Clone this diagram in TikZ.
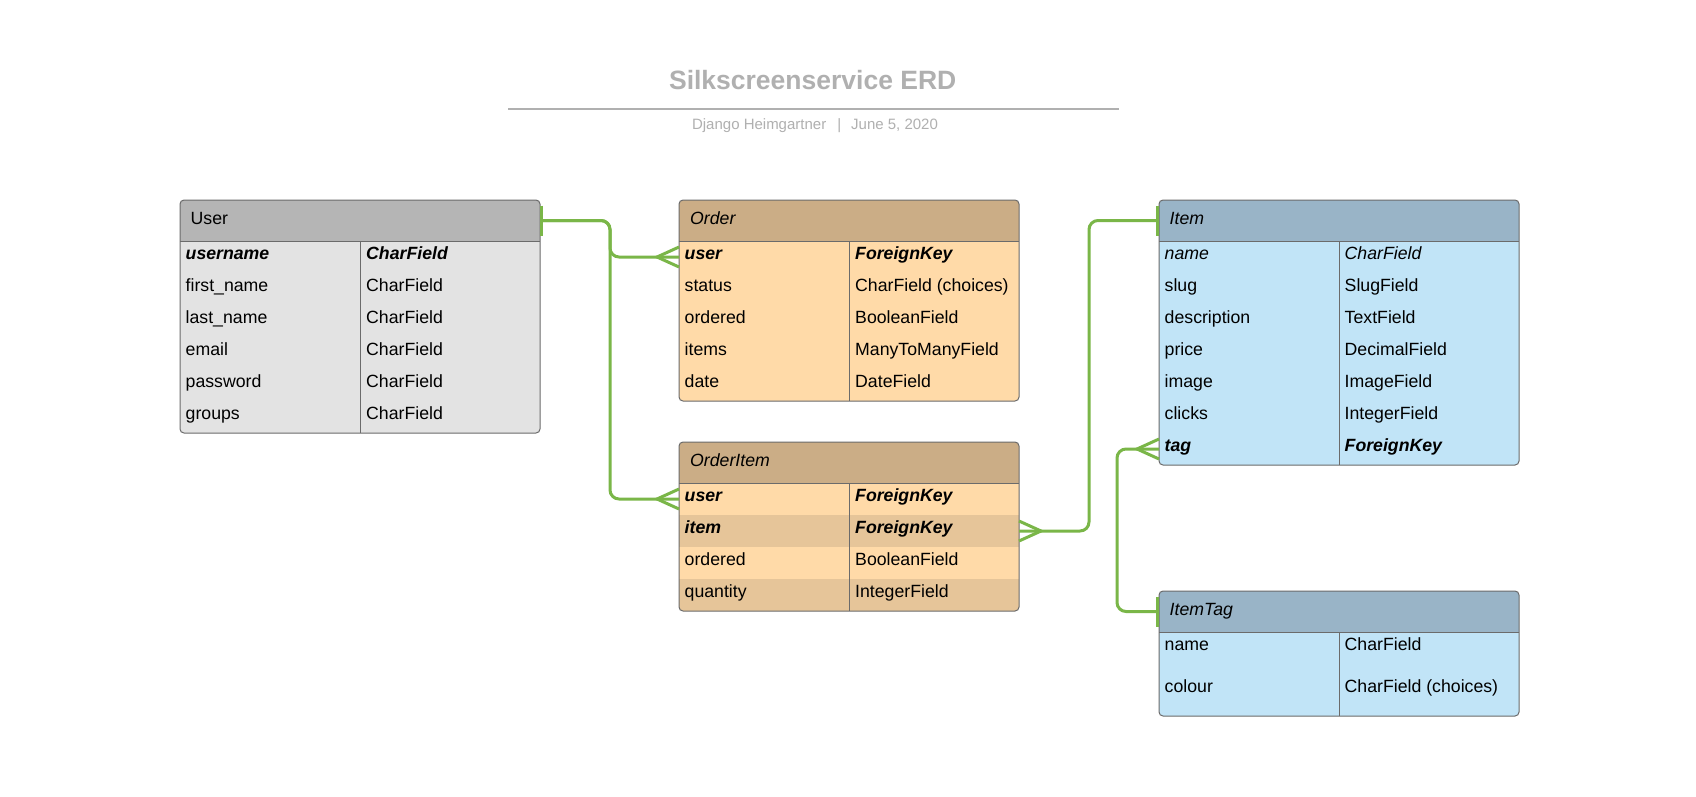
\documentclass[tikz,border=0pt]{standalone}
\usepackage{fontspec}
\setmainfont{Liberation Sans}

\definecolor{greyhead}{HTML}{B5B5B5}
\definecolor{greybody}{HTML}{E3E3E3}
\definecolor{tanhead}{HTML}{CBAD86}
\definecolor{tanbody}{HTML}{FFDAA8}
\definecolor{tanalt}{HTML}{E6C599}
\definecolor{bluehead}{HTML}{99B4C7}
\definecolor{bluebody}{HTML}{C1E4F7}
\definecolor{linkgreen}{HTML}{7AB648}
\definecolor{framegrey}{HTML}{6B6B6B}
\definecolor{titlegrey}{HTML}{B0B0B0}

\newcommand{\keyfield}[1]{\textbf{\textit{#1}}}

\begin{document}
\begin{tikzpicture}[x=1pt, y=-1pt,
  tbl/.style={rectangle, inner sep=0pt, outer sep=0pt, anchor=north west},
  txt/.style={anchor=base west, inner sep=0pt, font=\fontsize{17.7}{21}\selectfont},
  frame/.style={draw=framegrey, line width=1pt, rounded corners=4pt},
  rule/.style={draw=framegrey, line width=1pt},
  link/.style={draw=linkgreen, line width=3pt, rounded corners=9pt},
  tip/.style={draw=linkgreen, line width=3pt},
  crowfoot/.pic={\draw[tip] (0,-10) -- (-22,0) -- (0,10);},
  onebar/.pic={\draw[tip] (0,-15) -- (0,15);}
]
  \fill[white] (0,0) rectangle (1696,796);
  \useasboundingbox (0,0) rectangle (1696,796);

  % title
  \node[anchor=base, inner sep=0pt, text=titlegrey, font=\fontsize{26.5}{31}\selectfont\bfseries] (title) at (812.7,89.5) {Silkscreenservice ERD};
  \draw[titlegrey, line width=2pt] (508,108.5) -- (1119,108.5);
  \node[anchor=base, inner sep=0pt, text=titlegrey, font=\fontsize{15}{18}\selectfont] (byline) at (815,129) {Django Heimgartner\hspace{11pt}|\hspace{10pt}June 5, 2020};

  % User
  \node[tbl, rounded corners=4pt, fill=greybody, minimum width=360pt, minimum height=233pt] (user) at (180,200) {};
  \begin{scope}
    \clip[rounded corners=4pt] (user.north west) rectangle (user.south east);
    \node[tbl, fill=greyhead, minimum width=360pt, minimum height=41pt] (user-head) at (user.north west) {};
    \foreach \fname/\ftype [count=\i from 0] in {\keyfield{username}/\keyfield{CharField}, first\_name/CharField, last\_name/CharField, email/CharField, password/CharField, groups/CharField} {
      \node[tbl, minimum width=360pt, minimum height=32pt] (user-r\i) at (180,{241+32*\i}) {};
      \node[txt] (user-n\i) at (185.5,{259+32*\i}) {\fname};
      \node[txt] (user-t\i) at (366,{259+32*\i}) {\ftype};
    }
  \end{scope}
  \node[txt] (user-title) at (190.5,224.5) {User};
  \draw[rule] (user-head.south west) -- (user-head.south east);
  \draw[rule] (360,241) -- (360,433);
  \draw[frame] (user.north west) rectangle (user.south east);

  % Order
  \node[tbl, rounded corners=4pt, fill=tanbody, minimum width=340pt, minimum height=201pt] (order) at (679,200) {};
  \begin{scope}
    \clip[rounded corners=4pt] (order.north west) rectangle (order.south east);
    \node[tbl, fill=tanhead, minimum width=340pt, minimum height=41pt] (order-head) at (order.north west) {};
    \foreach \fname/\ftype [count=\i from 0] in {\keyfield{user}/\keyfield{ForeignKey}, status/CharField (choices), ordered/BooleanField, items/ManyToManyField, date/DateField} {
      \node[tbl, minimum width=340pt, minimum height=32pt] (order-r\i) at (679,{241+32*\i}) {};
      \node[txt] (order-n\i) at (684.5,{259+32*\i}) {\fname};
      \node[txt] (order-t\i) at (855,{259+32*\i}) {\ftype};
    }
  \end{scope}
  \node[txt] (order-title) at (690,224.5) {\itshape Order};
  \draw[rule] (order-head.south west) -- (order-head.south east);
  \draw[rule] (849,241) -- (849,401);
  \draw[frame] (order.north west) rectangle (order.south east);

  % OrderItem
  \node[tbl, rounded corners=4pt, fill=tanbody, minimum width=340pt, minimum height=169pt] (oitem) at (679,442) {};
  \begin{scope}
    \clip[rounded corners=4pt] (oitem.north west) rectangle (oitem.south east);
    \node[tbl, fill=tanhead, minimum width=340pt, minimum height=41pt] (oitem-head) at (oitem.north west) {};
    \foreach \fname/\ftype/\shade [count=\i from 0] in {\keyfield{user}/\keyfield{ForeignKey}/tanbody, \keyfield{item}/\keyfield{ForeignKey}/tanalt, ordered/BooleanField/tanbody, quantity/IntegerField/tanalt} {
      \node[tbl, fill=\shade, minimum width=340pt, minimum height=32pt] (oitem-r\i) at (679,{483+32*\i}) {};
      \node[txt] (oitem-n\i) at (684.5,{501+32*\i}) {\fname};
      \node[txt] (oitem-t\i) at (855,{501+32*\i}) {\ftype};
    }
  \end{scope}
  \node[txt] (oitem-title) at (690,466.5) {\itshape OrderItem};
  \draw[rule] (oitem-head.south west) -- (oitem-head.south east);
  \draw[rule] (849,483) -- (849,611);
  \draw[frame] (oitem.north west) rectangle (oitem.south east);

  % Item
  \node[tbl, rounded corners=4pt, fill=bluebody, minimum width=360pt, minimum height=265pt] (item) at (1159,200) {};
  \begin{scope}
    \clip[rounded corners=4pt] (item.north west) rectangle (item.south east);
    \node[tbl, fill=bluehead, minimum width=360pt, minimum height=41pt] (item-head) at (item.north west) {};
    \foreach \fname/\ftype [count=\i from 0] in {\textit{name}/\textit{CharField}, slug/SlugField, description/TextField, price/DecimalField, image/ImageField, clicks/IntegerField, \keyfield{tag}/\keyfield{ForeignKey}} {
      \node[tbl, minimum width=360pt, minimum height=32pt] (item-r\i) at (1159,{241+32*\i}) {};
      \node[txt] (item-n\i) at (1164.5,{259+32*\i}) {\fname};
      \node[txt] (item-t\i) at (1344.5,{259+32*\i}) {\ftype};
    }
  \end{scope}
  \node[txt] (item-title) at (1169.5,224.5) {\itshape Item};
  \draw[rule] (item-head.south west) -- (item-head.south east);
  \draw[rule] (1339,241) -- (1339,465);
  \draw[frame] (item.north west) rectangle (item.south east);

  % ItemTag
  \node[tbl, rounded corners=4pt, fill=bluebody, minimum width=360pt, minimum height=125pt] (itag) at (1159,591) {};
  \begin{scope}
    \clip[rounded corners=4pt] (itag.north west) rectangle (itag.south east);
    \node[tbl, fill=bluehead, minimum width=360pt, minimum height=41pt] (itag-head) at (itag.north west) {};
    \foreach \fname/\ftype [count=\i from 0] in {name/CharField, colour/CharField (choices)} {
      \node[tbl, minimum width=360pt, minimum height=42pt] (itag-r\i) at (1159,{632+42*\i}) {};
      \node[txt] (itag-n\i) at (1164.5,{650+42*\i}) {\fname};
      \node[txt] (itag-t\i) at (1344.5,{650+42*\i}) {\ftype};
    }
  \end{scope}
  \node[txt] (itag-title) at (1169.5,615.5) {\itshape ItemTag};
  \draw[rule] (itag-head.south west) -- (itag-head.south east);
  \draw[rule] (1339,632) -- (1339,716);
  \draw[frame] (itag.north west) rectangle (itag.south east);

  % relations
  \draw[link] (user-head.east) -- ++(70,0) |- (order-r0.west);
  \draw[link] (user-head.east) -- ++(70,0) |- (oitem-r0.west);
  \draw[link] (oitem-r1.east) -- ++(70,0) |- (item-head.west);
  \draw[link] (item-r6.west) -- ++(-42,0) |- (itag-head.west);
  \pic at ([xshift=1.5pt]user-head.east) {onebar};
  \pic at (order-r0.west) {crowfoot};
  \pic at (oitem-r0.west) {crowfoot};
  \pic[xscale=-1] at (oitem-r1.east) {crowfoot};
  \pic at ([xshift=-1.5pt]item-head.west) {onebar};
  \pic at (item-r6.west) {crowfoot};
  \pic at ([xshift=-1.5pt]itag-head.west) {onebar};
\end{tikzpicture}
\end{document}
